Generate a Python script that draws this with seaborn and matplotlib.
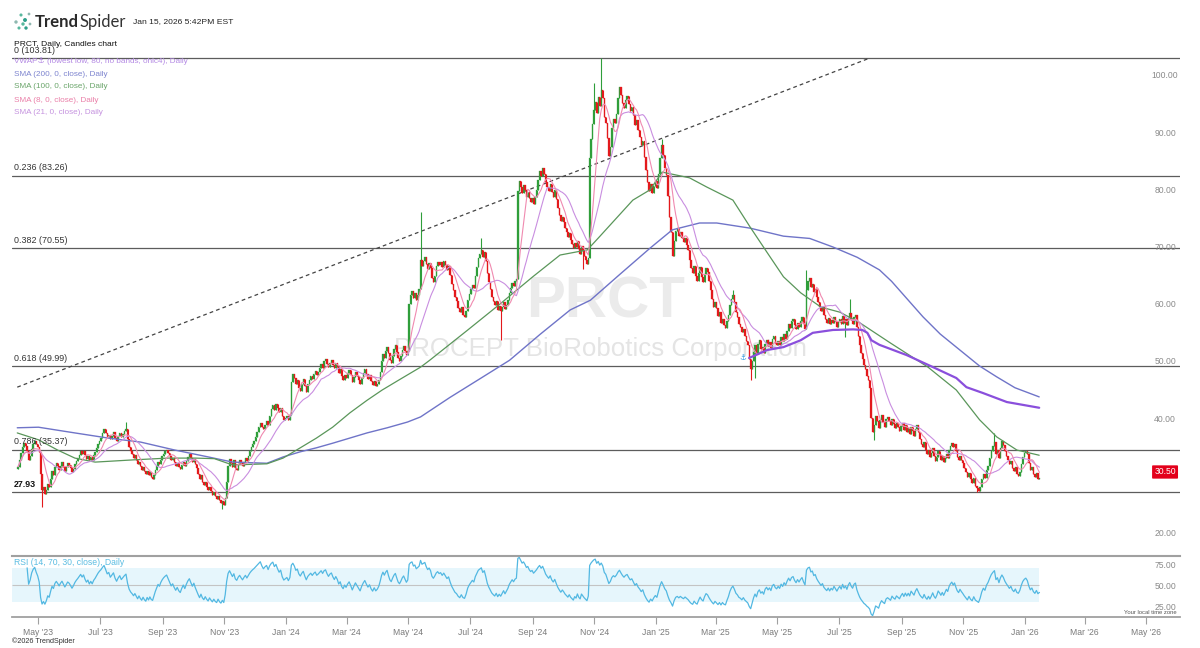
import numpy as np
import pandas as pd
import matplotlib
matplotlib.use("Agg")
import matplotlib.pyplot as plt
import matplotlib.dates as mdates
import matplotlib.transforms as mtransforms
import seaborn as sns

sns.set_theme(style="white")
plt.rcParams['font.family'] = ['Liberation Sans', 'DejaVu Sans']

# ---------------- data ----------------
CLOSES = {
    "2023-04": [32.4, 33.6, 34.8, 35.9, 36.6, 36.1, 35.2, 33.6, 34.2, 35.5, 36.4, 36.9, 36.3, 35.8],
    "2023-05": [34.9, 31.2, 28.4, 28.9, 27.6, 28.3, 29.4, 28.8, 30.2, 31.6, 30.9, 32.4, 33.1, 32.5, 31.8, 32.6, 33.2, 32.4, 31.6, 32.3, 33.0, 32.7],
    "2023-06": [32.1, 31.4, 32.0, 32.8, 33.4, 33.9, 34.5, 35.1, 34.6, 35.2, 34.4, 33.8, 34.3, 33.5, 34.1, 33.6, 34.4, 34.9, 35.6, 36.3, 36.9],
    "2023-07": [37.4, 38.2, 38.9, 38.3, 37.6, 38.0, 37.2, 37.8, 38.4, 37.5, 36.9, 37.7, 38.3, 37.6, 38.1, 38.6, 39.0, 37.3, 35.9, 35.1],
    "2023-08": [34.6, 34.0, 34.4, 33.6, 32.8, 33.3, 32.5, 31.9, 32.4, 31.6, 31.1, 31.7, 30.9, 31.4, 30.6, 30.3, 31.0, 31.8, 32.5, 33.2, 32.8, 33.6, 34.2],
    "2023-09": [34.7, 35.1, 35.4, 34.8, 34.2, 33.5, 33.9, 33.2, 32.6, 33.1, 32.4, 32.0, 32.7, 33.3, 32.6, 33.4, 34.1, 34.6, 33.9, 33.2],
    "2023-10": [33.8, 32.9, 32.1, 31.2, 30.3, 30.9, 29.8, 29.2, 29.7, 28.9, 28.3, 28.8, 28.1, 27.5, 27.9, 27.2, 26.8, 27.3, 26.5, 26.0, 26.4, 25.7],
    "2023-11": [26.9, 29.8, 32.6, 33.8, 33.1, 32.4, 33.5, 32.2, 31.8, 32.9, 33.6, 33.0, 32.5, 33.3, 34.0, 33.4, 34.2, 35.1, 35.8, 36.4, 36.9],
    "2023-12": [37.6, 38.4, 39.3, 40.1, 39.4, 38.9, 39.7, 40.3, 39.6, 41.2, 42.4, 43.1, 42.3, 43.4, 42.6, 41.9, 42.7, 41.3, 40.5, 40.9],
    "2024-01": [41.3, 40.6, 41.5, 47.2, 48.6, 47.9, 46.8, 47.5, 46.2, 45.6, 46.9, 47.8, 46.5, 45.4, 46.8, 47.6, 48.3, 47.7, 48.6, 49.2, 48.4],
    "2024-02": [48.9, 49.6, 50.3, 49.7, 50.8, 51.2, 50.4, 49.8, 50.6, 51.0, 50.2, 49.6, 50.5, 49.9, 48.8, 49.4, 48.2, 47.6, 48.5, 47.9],
    "2024-03": [48.7, 49.3, 48.4, 47.2, 48.1, 49.0, 48.3, 47.5, 46.8, 47.9, 48.8, 49.5, 48.6, 47.8, 48.4, 47.3, 46.6, 47.4, 46.5, 46.9],
    "2024-04": [47.6, 48.9, 50.8, 52.1, 51.4, 52.6, 53.4, 52.2, 51.1, 50.6, 51.8, 52.9, 53.6, 52.5, 51.4, 50.9, 51.7, 52.8, 53.5, 52.7, 51.9, 52.6],
    "2024-05": [60.8, 62.4, 63.1, 61.9, 62.7, 61.6, 62.5, 63.4, 68.6, 67.4, 68.3, 69.1, 67.8, 66.9, 68.0, 67.2, 65.3, 64.6, 65.8, 67.4, 68.2, 67.6],
    "2024-06": [68.1, 67.3, 68.4, 67.6, 66.8, 67.5, 65.9, 64.4, 63.2, 62.0, 61.4, 60.2, 59.5, 60.3, 59.0, 58.6, 59.7, 61.5, 62.6],
    "2024-07": [63.4, 64.2, 63.7, 65.8, 67.3, 68.9, 69.6, 70.3, 69.1, 70.0, 68.4, 66.2, 64.7, 63.5, 62.1, 61.3, 60.6, 61.4, 59.8, 60.5, 59.6],
    "2024-08": [60.4, 61.2, 59.9, 60.7, 61.5, 62.8, 63.6, 64.5, 63.9, 64.8, 65.2, 80.6, 82.4, 81.3, 80.2, 81.7, 80.8, 79.6, 80.5, 79.3, 78.6, 79.4],
    "2024-09": [78.4, 79.5, 80.8, 82.6, 84.1, 83.2, 84.7, 83.5, 82.1, 81.3, 80.6, 81.9, 80.4, 79.6, 80.8, 79.2, 77.6, 76.4, 75.3, 76.1],
    "2024-10": [75.2, 74.1, 73.4, 72.6, 73.3, 72.1, 71.4, 70.6, 71.5, 70.8, 71.9, 70.4, 69.6, 70.9, 70.1, 69.2, 68.5, 67.8, 68.9, 86.4, 89.7, 92.3, 94.8],
    "2024-11": [96.2, 94.3, 97.1, 95.4, 98.2, 96.8, 93.5, 92.4, 89.8, 86.7, 88.3, 91.6, 93.2, 92.5, 94.1, 96.8, 98.7, 97.3, 96.0, 95.1],
    "2024-12": [96.5, 97.2, 95.8, 94.6, 95.3, 93.8, 92.1, 93.0, 91.2, 90.1, 88.6, 89.4, 86.5, 84.2, 82.1, 80.6, 81.8, 80.3, 81.5, 82.4],
    "2025-01": [81.2, 83.5, 86.4, 88.6, 86.9, 84.7, 83.4, 79.8, 76.1, 73.4, 69.2, 71.8, 73.6, 74.1, 72.8, 73.5, 72.4, 71.6, 72.3, 71.2],
    "2025-02": [70.2, 68.5, 67.1, 66.3, 67.4, 65.8, 64.9, 66.2, 67.3, 65.6, 64.6, 66.1, 67.2, 66.5, 64.8, 63.2, 61.7, 60.4, 61.2],
    "2025-03": [60.1, 58.8, 59.4, 57.6, 58.3, 57.1, 56.6, 57.8, 58.9, 60.6, 61.8, 62.5, 61.2, 59.4, 58.6, 57.3, 56.8, 55.9, 56.5, 55.2, 54.4],
    "2025-04": [53.6, 51.2, 49.4, 50.8, 52.4, 53.6, 52.1, 53.8, 54.5, 52.9, 53.4, 52.2, 53.9, 54.6, 53.5, 54.2, 53.1, 54.8, 55.3, 54.1, 53.6],
    "2025-05": [54.4, 53.7, 55.1, 54.3, 55.6, 54.8, 56.2, 57.4, 56.6, 57.9, 58.3, 57.2, 56.5, 57.6, 56.9, 57.8, 58.5, 57.3, 56.4, 63.2, 64.8],
    "2025-06": [65.3, 63.8, 64.4, 62.9, 63.5, 62.1, 61.2, 60.4, 59.6, 60.3, 58.9, 58.2, 57.6, 58.4, 57.3, 58.1, 57.5, 58.6, 57.8, 56.9, 57.7],
    "2025-07": [58.3, 57.4, 58.8, 57.6, 58.2, 57.1, 58.4, 59.2, 58.1, 57.4, 58.6, 59.0, 56.8, 55.2, 53.6, 52.3, 51.2, 50.1, 49.4, 48.3, 47.5, 46.2],
    "2025-08": [40.9, 38.4, 39.6, 41.2, 40.3, 39.1, 40.5, 41.4, 40.2, 39.3, 40.7, 41.1, 40.4, 39.6, 40.8, 39.8, 39.2, 40.1, 39.4, 38.7, 39.5],
    "2025-09": [40.1, 38.8, 39.7, 38.5, 39.2, 38.1, 39.4, 38.6, 37.8, 38.9, 39.6, 38.4, 37.2, 36.4, 35.8, 36.7, 35.4, 34.6, 35.3, 34.1, 34.8],
    "2025-10": [35.6, 34.2, 33.4, 34.1, 35.2, 34.5, 33.6, 34.3, 33.2, 33.9, 34.7, 34.0, 35.3, 36.1, 36.6, 35.8, 36.4, 35.2, 34.1, 33.5, 34.3, 33.6, 33.0],
    "2025-11": [32.2, 31.4, 30.6, 31.3, 30.2, 29.6, 30.4, 29.1, 28.6, 28.1, 28.9, 30.2, 31.1, 30.5, 31.8, 32.6, 33.9, 35.2, 36.1],
    "2025-12": [36.8, 34.6, 35.3, 33.9, 35.7, 36.9, 36.2, 35.1, 34.3, 33.6, 32.8, 33.4, 32.2, 31.6, 32.3, 31.1, 30.8, 31.5, 32.9, 34.1, 34.8],
    "2026-01": [35.2, 34.6, 33.1, 31.9, 32.4, 31.2, 30.6, 31.3, 30.2, 30.5],
}
SEG_START = {"2023-04": "2023-04-10"}
SEG_END = {"2026-01": "2026-01-16"}
FIRST_OPEN = 32.0

# notable wicks: (date, high, low)
WICKS = [
    ("2023-05-05", None, 25.3), ("2023-07-26", 40.2, None), ("2023-10-30", None, 25.0),
    ("2024-05-13", 76.9, None), ("2024-07-12", 72.4, None), ("2024-07-31", None, 54.5),
    ("2024-10-21", None, 67.0), ("2024-10-31", 99.5, None), ("2024-11-08", 103.81, None),
    ("2025-01-06", 89.6, None), ("2025-03-18", 63.2, None), ("2025-04-04", None, 47.5),
    ("2025-04-09", None, 47.9), ("2025-05-30", 66.8, None), ("2025-07-08", None, 55.0),
    ("2025-07-12", 61.8, None), ("2025-08-04", None, 37.1), ("2025-11-14", None, 27.93),
    ("2025-12-01", 38.3, None),
]

SMA200_DATES = ["2023-04-10", "2023-05-01", "2023-06-06", "2023-07-09", "2023-08-10", "2023-09-13",
                "2023-10-16", "2023-11-09", "2023-12-13", "2023-12-29", "2024-01-15", "2024-01-31",
                "2024-02-16", "2024-03-04", "2024-03-21", "2024-04-10", "2024-04-30", "2024-05-13",
                "2024-06-11", "2024-07-11", "2024-08-09", "2024-09-08", "2024-10-08", "2024-10-28",
                "2024-11-26", "2024-12-26", "2025-01-17", "2025-02-13", "2025-03-02", "2025-04-04",
                "2025-05-07", "2025-06-02", "2025-06-25", "2025-07-19", "2025-08-10", "2025-08-22",
                "2025-09-04", "2025-09-22", "2025-10-09", "2025-10-25", "2025-11-17", "2025-12-04",
                "2025-12-22", "2026-01-15"]
SMA200_VALS = [39.2, 39.3, 38.3, 37.4, 36.7, 35.3, 34.1, 33.2, 33.0, 34.1, 35.0, 35.7, 36.5, 37.4,
               38.3, 39.2, 40.2, 41.1, 44.5, 47.8, 51.0, 55.5, 59.8, 61.5, 66.0, 70.6, 73.8, 75.0,
               75.0, 74.1, 72.7, 72.3, 70.8, 69.0, 66.8, 64.8, 62.2, 58.6, 55.6, 53.3, 50.0, 48.1,
               46.2, 44.6]

SMA100_DATES = ["2023-04-10", "2023-05-01", "2023-05-20", "2023-06-06", "2023-06-26", "2023-08-04",
                "2023-09-06", "2023-10-03", "2023-10-22", "2023-11-09", "2023-12-13", "2023-12-29",
                "2024-01-15", "2024-01-31", "2024-02-16", "2024-03-04", "2024-03-21", "2024-04-05",
                "2024-04-22", "2024-05-13", "2024-05-22", "2024-06-28", "2024-07-31", "2024-09-01",
                "2024-09-28", "2024-10-25", "2024-11-06", "2024-12-09", "2024-12-26", "2025-01-07",
                "2025-02-03", "2025-02-20", "2025-03-18", "2025-04-04", "2025-04-21", "2025-05-07",
                "2025-05-24", "2025-06-13", "2025-07-02", "2025-07-22", "2025-08-21", "2025-09-27",
                "2025-10-25", "2025-11-17", "2025-12-04", "2025-12-24", "2026-01-15"]
SMA100_VALS = [38.3, 37.1, 35.3, 33.9, 33.2, 33.6, 33.9, 33.9, 33.8, 32.7, 32.9, 33.9, 35.7, 37.4,
               39.3, 41.8, 44.0, 45.8, 47.6, 49.8, 51.0, 56.2, 60.9, 65.6, 69.4, 70.3, 72.6, 79.0,
               80.8, 83.9, 82.9, 81.3, 79.0, 74.3, 69.8, 65.6, 62.8, 60.3, 59.4, 57.5, 54.0, 49.8,
               45.8, 40.6, 37.6, 35.3, 34.4]

VWAP_DATES = ["2025-04-03", "2025-04-21", "2025-05-07", "2025-05-24", "2025-06-05", "2025-06-25",
              "2025-07-15", "2025-07-24", "2025-07-29", "2025-08-02", "2025-08-10", "2025-09-06",
              "2025-10-02", "2025-10-25", "2025-11-04", "2025-11-20", "2025-12-14", "2026-01-15"]
VWAP_VALS = [51.4, 52.8, 53.3, 54.5, 55.8, 56.3, 56.4, 56.3, 55.8, 54.5, 53.7, 51.9, 49.8, 47.9,
             46.3, 45.3, 43.7, 42.7]

TREND_DATES = ["2023-04-10", "2025-07-31"]
TREND_VALS = [46.3, 103.81]

FIB_LEVELS = [103.81, 83.26, 70.55, 49.99, 35.37, 27.93]
FIB_LABELS = ["0 (103.81)", "0.236 (83.26)", "0.382 (70.55)", "0.618 (49.99)", "0.786 (35.37)", "27.93"]

PRICE_TICKS = [100, 90, 80, 70, 60, 50, 40, 20]
RSI_TICKS = [75, 50, 25]
XTICK_DATES = ["2023-05-01", "2023-07-01", "2023-09-01", "2023-11-01", "2024-01-01", "2024-03-01",
               "2024-05-01", "2024-07-01", "2024-09-01", "2024-11-01", "2025-01-01", "2025-03-01",
               "2025-05-01", "2025-07-01", "2025-09-01", "2025-11-01", "2026-01-01", "2026-03-01",
               "2026-05-01"]
LAST_PRICE = 30.50

LEGEND = [
    ("VWAP\u2693 (lowest low, 80, no bands, ohlc4), Daily", "#b48ae4"),
    ("SMA (200, 0, close), Daily", "#7d84cf"),
    ("SMA (100, 0, close), Daily", "#6aa56a"),
    ("SMA (8, 0, close), Daily", "#ea7fa8"),
    ("SMA (21, 0, close), Daily", "#c592df"),
]

# ---------------- build daily table ----------------
rows = []
for key, vals in CLOSES.items():
    s = pd.Timestamp(SEG_START.get(key, key + "-01"))
    e = pd.Timestamp(SEG_END.get(key, (pd.Timestamp(key + "-01") + pd.offsets.MonthBegin(1)).strftime("%Y-%m-%d")))
    n = len(vals)
    for i, v in enumerate(vals):
        rows.append((s + (e - s) * ((i + 0.5) / n), v))
df = pd.DataFrame(rows, columns=["date", "close"])
df["open"] = df["close"].shift(1).fillna(FIRST_OPEN)
df["high"] = df[["open", "close"]].max(axis=1)
df["low"] = df[["open", "close"]].min(axis=1)
for d, h, l in WICKS:
    idx = (df["date"] - pd.Timestamp(d)).abs().idxmin()
    if h is not None:
        df.loc[idx, "high"] = max(h, df.loc[idx, "high"])
    if l is not None:
        df.loc[idx, "low"] = min(l, df.loc[idx, "low"])
df["x"] = mdates.date2num(df["date"].values)
df["sma8"] = df["close"].rolling(8, min_periods=1).mean()
df["sma21"] = df["close"].rolling(21, min_periods=1).mean()
dlt = df["close"].diff()
gain = dlt.clip(lower=0).ewm(alpha=1 / 14, adjust=True, min_periods=6).mean()
loss = (-dlt.clip(upper=0)).ewm(alpha=1 / 14, adjust=True, min_periods=6).mean()
df["rsi"] = 100 - 100 / (1 + gain / loss)

def dn(lst):
    return mdates.date2num(pd.to_datetime(lst).values)

# ---------------- figure ----------------
W, H = 1200, 648
fig = plt.figure(figsize=(12, 6.48), dpi=100)
fig.patch.set_facecolor("white")
fx = lambda px: px / W
fy = lambda py: 1 - py / H

ax = fig.add_axes([fx(12), fy(552), (1180 - 12) / W, (552 - 50) / H])
axr = fig.add_axes([fx(12), fy(617), (1180 - 12) / W, (617 - 556) / H])

x0 = mdates.date2num(pd.Timestamp("2023-05-01") - pd.Timedelta(days=26.2))
x1 = mdates.date2num(pd.Timestamp("2023-05-01") + pd.Timedelta(days=1129.3))
for a in (ax, axr):
    a.set_xlim(x0, x1)
    a.set_facecolor("none")
ax.set_ylim(17.483, 105.245)
axr.set_ylim(12.35, 84.1)

for s in ax.spines.values():
    s.set_visible(False)
ax.set_xticks([]); ax.set_yticks([])

# watermark
ax.text(0.508, 0.498, "PRCT", transform=ax.transAxes, ha="center", va="center",
        fontsize=42, fontweight="bold", color="#ebebeb", zorder=0)
ax.text(0.5035, 0.405, "PROCEPT BioRobotics Corporation", transform=ax.transAxes, ha="center",
        va="center", fontsize=18.6, color="#e4e4e4", zorder=0)

# fib lines
for lv in FIB_LEVELS:
    ax.axhline(lv, color="#5c5c5c", lw=0.9, zorder=1)
blend = mtransforms.blended_transform_factory(ax.transAxes, ax.transData)
for lv, lab in zip(FIB_LEVELS, FIB_LABELS):
    bold = lab == "27.93"
    ax.annotate(lab, xy=(0.0017, lv), xycoords=blend, xytext=(0, 5.6), textcoords="offset points",
                ha="left", va="center", fontsize=6.4, color="#111" if bold else "#333",
                fontweight="bold" if bold else "normal", zorder=6)

# trend line (dashed)
ax.plot(dn(TREND_DATES), TREND_VALS, color="#444444", lw=0.9, ls=(0, (3, 2.5)), zorder=2)

# candles
UP, DNC = "#2f9e3a", "#e3191c"
upm = df["close"] >= df["open"]
for m, col in ((upm, UP), (~upm, DNC)):
    sub = df[m]
    ax.vlines(sub["x"], sub["low"], sub["high"], color=col, lw=0.8, zorder=3)
    bh = (sub["close"] - sub["open"]).abs().clip(lower=0.2)
    ax.bar(sub["x"], bh, bottom=np.minimum(sub["open"], sub["close"]), width=1.35,
           color=col, ec=col, lw=0.2, zorder=3)

# moving averages and VWAP
sns.lineplot(x=dn(SMA200_DATES), y=SMA200_VALS, ax=ax, color="#6f74c8", lw=1.0, zorder=4,
             estimator=None, sort=False, legend=False)
sns.lineplot(x=dn(SMA100_DATES), y=SMA100_VALS, ax=ax, color="#5a965a", lw=0.9, zorder=4,
             estimator=None, sort=False, legend=False)
sns.lineplot(x=df["x"], y=df["sma21"], ax=ax, color="#c98ee0", lw=0.8, zorder=4,
             estimator=None, sort=False, legend=False)
sns.lineplot(x=df["x"], y=df["sma8"], ax=ax, color="#f08ab0", lw=0.8, zorder=4,
             estimator=None, sort=False, legend=False)
sns.lineplot(x=dn(VWAP_DATES), y=VWAP_VALS, ax=ax, color="#8a4fdc", lw=1.6, zorder=4,
             estimator=None, sort=False, legend=False)
ax.annotate("\u2693", xy=(dn(VWAP_DATES)[0], VWAP_VALS[0]), xytext=(-2, 0),
            textcoords="offset points", ha="right", va="center", fontsize=5.5,
            color="#3f9fe0", family=["DejaVu Sans"], zorder=6)
ax.set_xlabel(""); ax.set_ylabel("")
ax.set_xticks([]); ax.set_yticks([])

# right price labels
for p in PRICE_TICKS:
    ax.annotate(f"{p:.2f}", xy=(0.9872, p), xycoords=blend, xytext=(0, 3), textcoords="offset points",
                ha="center", va="center", fontsize=6.2, color="#8a8a8a", zorder=6)
ax.annotate(f"{LAST_PRICE:.2f}", xy=(0.9872, LAST_PRICE), xycoords=blend, xytext=(0, 4),
            textcoords="offset points", ha="center", va="center", fontsize=6.2, color="white",
            zorder=7, bbox=dict(boxstyle="round,pad=0.25,rounding_size=0.1", fc="#e3001b", ec="none"))

# ---------------- RSI panel ----------------
last_x = df["x"].iloc[-1]
axr.fill_between([x0, last_x], 30, 70, color="#e6f6fc", lw=0, zorder=1)
axr.hlines(50, x0, last_x, color="#c4c4c4", lw=0.8, zorder=2)
rs = df.dropna(subset=["rsi"])
sns.lineplot(x=rs["x"], y=rs["rsi"], ax=axr, color="#52b8e2", lw=0.9, zorder=3,
             estimator=None, sort=False, legend=False)
axr.set_xlabel(""); axr.set_ylabel("")
for side in ("left", "right"):
    axr.spines[side].set_visible(False)
axr.spines["top"].set_color("#a0a0a0"); axr.spines["top"].set_linewidth(1.5)
axr.spines["bottom"].set_color("#a0a0a0"); axr.spines["bottom"].set_linewidth(1.3)
axr.set_yticks([])
xt = dn(XTICK_DATES)
axr.set_xticks(xt)
axr.set_xticklabels([pd.Timestamp(d).strftime("%b '%y") for d in XTICK_DATES])
axr.tick_params(axis="x", direction="out", length=5, width=0.8, color="#a0a0a0",
                labelcolor="#7a7a7a", labelsize=6.2, pad=3, bottom=True)
blr = mtransforms.blended_transform_factory(axr.transAxes, axr.transData)
for v in RSI_TICKS:
    axr.annotate(f"{v:.2f}", xy=(0.9872, v), xycoords=blr, xytext=(0, -1), textcoords="offset points",
                 ha="center", va="center", fontsize=6.2, color="#8a8a8a")
axr.text(0.0017, 0.9, "RSI (14, 70, 30, close), Daily", transform=axr.transAxes, ha="left",
         va="center", fontsize=6.2, color="#5bbde2")

# ---------------- header & legend ----------------
fig.text(fx(14), fy(44), "PRCT, Daily, Candles chart", ha="left", va="center", fontsize=6.1, color="#111")
for i, (txt, col) in enumerate(LEGEND):
    fig.text(fx(14), fy(61 + 13 * i), txt, ha="left", va="center", fontsize=5.9, color=col)

t1 = fig.text(fx(35), fy(22), "Trend", ha="left", va="center", fontsize=12, fontweight="bold",
              color="#2a2a2a", family=["Lato", "DejaVu Sans"])
fig.canvas.draw()
bb = t1.get_window_extent()
fig.text(bb.x1 / W + 0.0006, fy(22), "Spider", ha="left", va="center", fontsize=12,
         color="#333333", family=["Lato", "DejaVu Sans"])
fig.text(fx(133), fy(22), "Jan 15, 2026 5:42PM EST", ha="left", va="center", fontsize=6.1, color="#222")

# logo nodes
axl = fig.add_axes([0, 0, 1, 1], zorder=-1)
axl.set_xlim(0, W); axl.set_ylim(H, 0); axl.axis("off")
axl.scatter([16, 21, 25, 29, 19, 26, 30, 23], [22, 15, 20, 14, 28, 28, 24, 24], s=[6, 5, 8, 4, 5, 6, 4, 6],
            color=["#8fb8b0", "#58b89e", "#2e9f8a", "#8fb8b0", "#58b89e", "#2e9f8a", "#8fb8b0", "#58b89e"], lw=0)

fig.text(fx(1150), fy(613), "Your local time zone", ha="center", va="center", fontsize=4.2, color="#555")
fig.text(fx(12), fy(641), "\u00a92026 TrendSpider", ha="left", va="center", fontsize=5.2, color="#333")

fig.savefig("out.png", dpi=100, facecolor="white")
